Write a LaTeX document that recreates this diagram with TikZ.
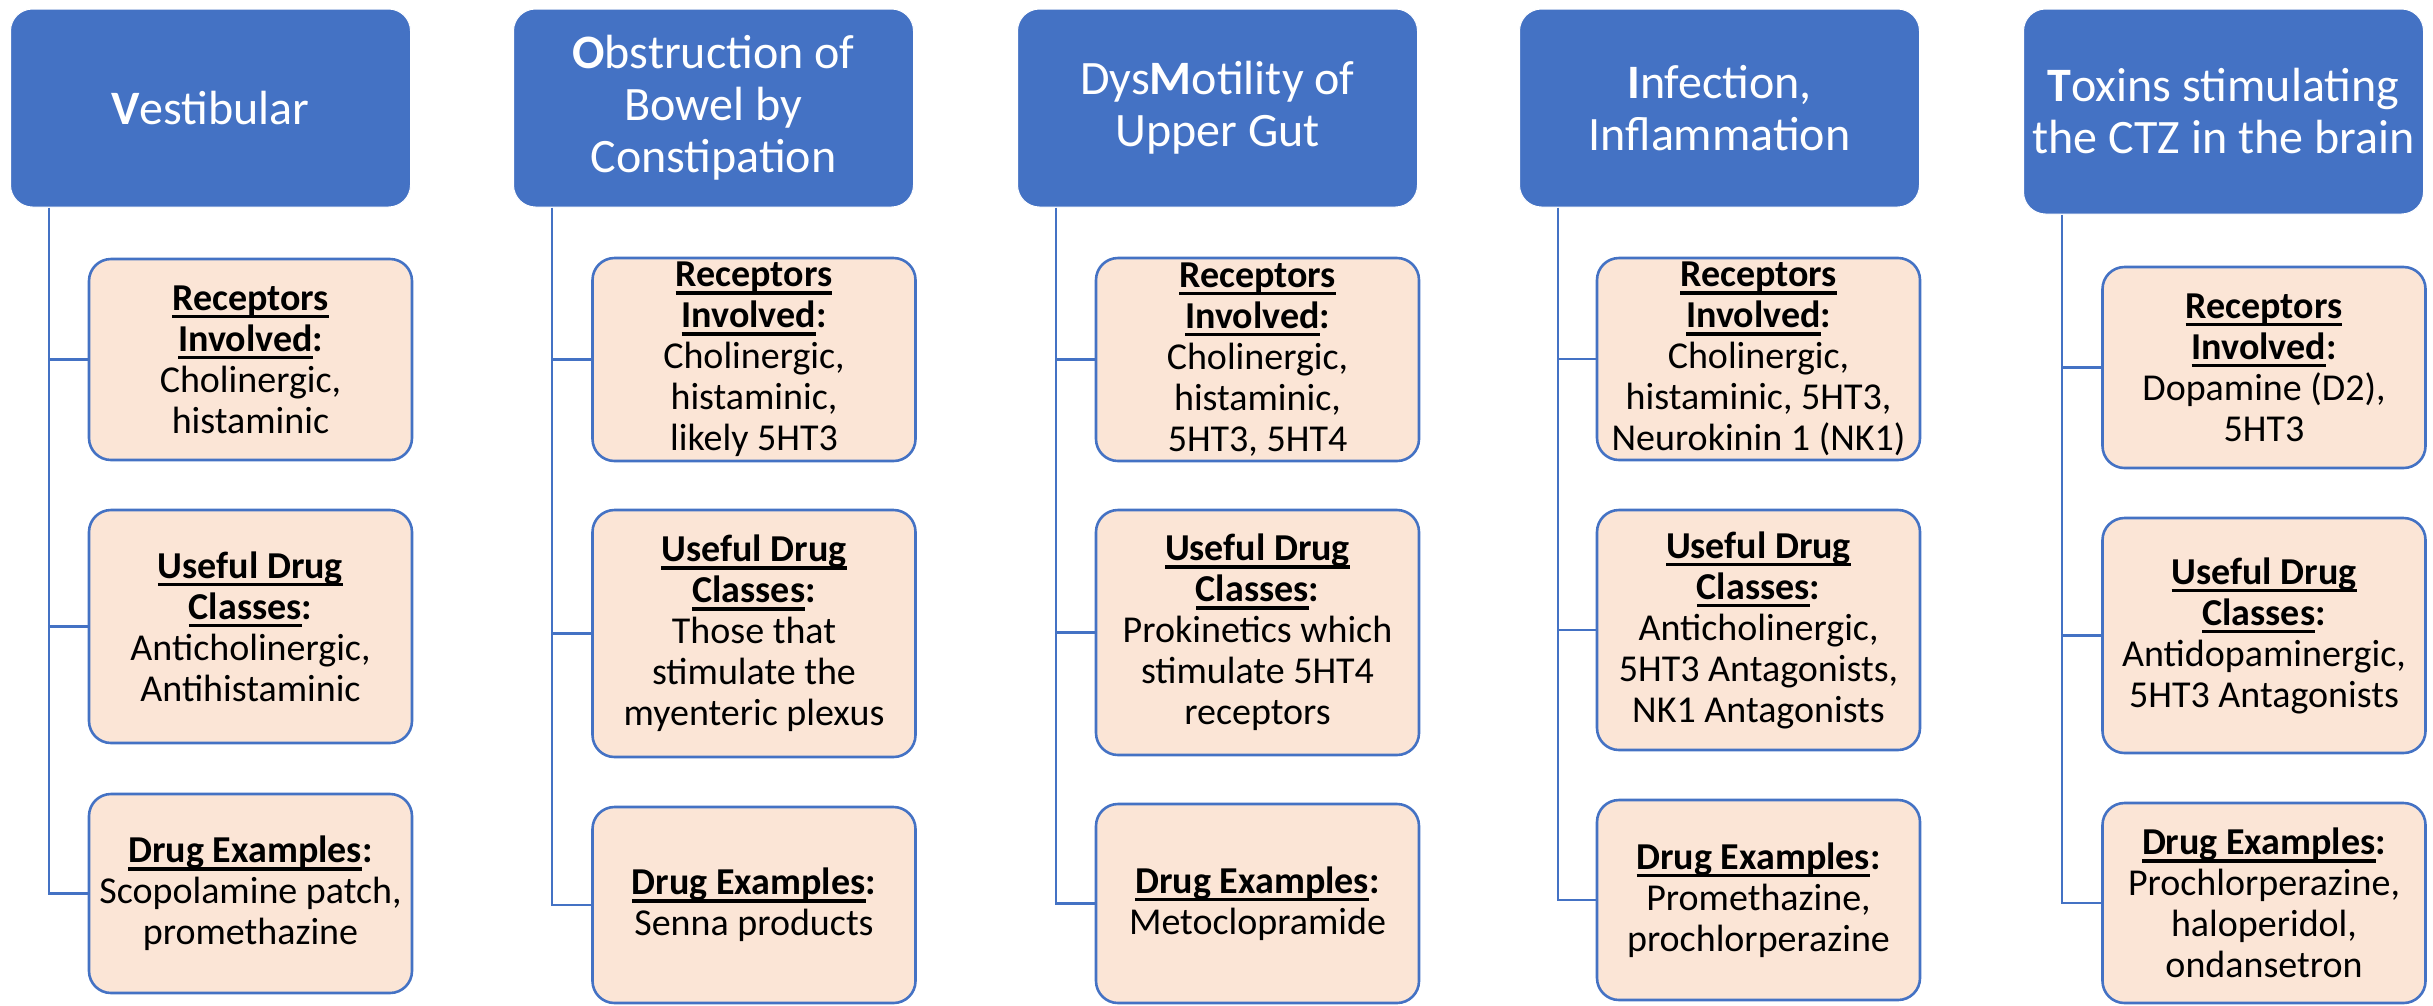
\documentclass[tikz,border=0pt]{standalone}
\usepackage{fontspec}
\setmainfont{Carlito}
\usepackage{tikz}

\definecolor{headblue}{HTML}{4472C4}
\definecolor{peach}{HTML}{FBE5D6}

\newcommand{\ulbf}[1]{\setbox0=\hbox{\bfseries #1}\rlap{\rule[-8pt]{\wd0}{3.5pt}}\box0}

\begin{document}
\begin{tikzpicture}[x=1pt, y=-1pt,
    head/.style={fill=headblue, draw=white, line width=1pt, rounded corners=22pt, text=white,
        minimum width=400pt, minimum height=198pt, align=center, inner sep=0pt,
        font=\fontsize{48}{52}\selectfont},
    info/.style={fill=peach, draw=headblue, line width=2.6pt, rounded corners=22pt,
        minimum width=323pt, align=center, inner sep=0pt,
        font=\fontsize{38}{41}\selectfont},
    conn/.style={draw=headblue, line width=2.6pt}]
    \useasboundingbox (0,0) rectangle (2433,1005);

    \node [head] (h1) at (210.5,108) {{\bfseries V}estibular};
    \node [head] (h2) at (713.5,108) {{\bfseries O}bstruction of\\Bowel by\\Constipation};
    \node [head] (h3) at (1217.5,108) {Dys{\bfseries M}otility of\\Upper Gut};
    \node [head] (h4) at (1719.5,108) {{\bfseries I}nfection,\\Inflammation};
    \node [head, minimum height=205pt] (h5) at (2223.5,111.5) {{\bfseries T}oxins stimulating\\the CTZ in the brain};

    \node [info, minimum height=201pt] (b11) at (250.5,359.5) {\ulbf{Receptors}\\\ulbf{Involved}\textbf{:}\\Cholinergic,\\histaminic};
    \node [info, minimum height=233pt] (b12) at (250.5,626.5) {\ulbf{Useful Drug}\\\ulbf{Classes}\textbf{:}\\Anticholinergic,\\Antihistaminic};
    \node [info, minimum height=199pt] (b13) at (250.5,893.5) {\ulbf{Drug Examples}\textbf{:}\\Scopolamine patch,\\promethazine};

    \node [info, minimum height=203pt] (b21) at (754,359.5) {\ulbf{Receptors}\\\ulbf{Involved}\textbf{:}\\Cholinergic,\\histaminic,\\likely 5HT3};
    \node [info, minimum height=247pt] (b22) at (754,633.5) {\ulbf{Useful Drug}\\\ulbf{Classes}\textbf{:}\\Those that\\stimulate the\\myenteric plexus};
    \node [info, minimum height=196pt] (b23) at (754,905) {\ulbf{Drug Examples}\textbf{:}\\Senna products};

    \node [info, minimum height=203pt] (b31) at (1257.5,359.5) {\ulbf{Receptors}\\\ulbf{Involved}\textbf{:}\\Cholinergic,\\histaminic,\\5HT3, 5HT4};
    \node [info, minimum height=245pt] (b32) at (1257.5,632.5) {\ulbf{Useful Drug}\\\ulbf{Classes}\textbf{:}\\Prokinetics which\\stimulate 5HT4\\receptors};
    \node [info, minimum height=199pt] (b33) at (1257.5,903.5) {\ulbf{Drug Examples}\textbf{:}\\Metoclopramide};

    \node [info, minimum height=202pt] (b41) at (1758.5,359) {\ulbf{Receptors}\\\ulbf{Involved}\textbf{:}\\Cholinergic,\\histaminic, 5HT3,\\Neurokinin 1 (NK1)};
    \node [info, minimum height=240pt] (b42) at (1758.5,630) {\ulbf{Useful Drug}\\\ulbf{Classes}\textbf{:}\\Anticholinergic,\\5HT3 Antagonists,\\NK1 Antagonists};
    \node [info, minimum height=200pt] (b43) at (1758.5,900) {\ulbf{Drug Examples}\textbf{:}\\Promethazine,\\prochlorperazine};

    \node [info, minimum height=201pt] (b51) at (2264,367.5) {\ulbf{Receptors}\\\ulbf{Involved}\textbf{:}\\Dopamine (D2),\\5HT3};
    \node [info, minimum height=235pt] (b52) at (2264,635.5) {\ulbf{Useful Drug}\\\ulbf{Classes}\textbf{:}\\Antidopaminergic,\\5HT3 Antagonists};
    \node [info, minimum height=200pt] (b53) at (2264,903) {\ulbf{Drug Examples}\textbf{:}\\Prochlorperazine,\\haloperidol,\\ondansetron};

    \draw [conn] ([xshift=39pt]h1.south west) |- (b11.west) ([xshift=39pt]h1.south west) |- (b12.west) ([xshift=39pt]h1.south west) |- (b13.west);
    \draw [conn] ([xshift=39pt]h2.south west) |- (b21.west) ([xshift=39pt]h2.south west) |- (b22.west) ([xshift=39pt]h2.south west) |- (b23.west);
    \draw [conn] ([xshift=39pt]h3.south west) |- (b31.west) ([xshift=39pt]h3.south west) |- (b32.west) ([xshift=39pt]h3.south west) |- (b33.west);
    \draw [conn] ([xshift=39pt]h4.south west) |- (b41.west) ([xshift=39pt]h4.south west) |- (b42.west) ([xshift=39pt]h4.south west) |- (b43.west);
    \draw [conn] ([xshift=39pt]h5.south west) |- (b51.west) ([xshift=39pt]h5.south west) |- (b52.west) ([xshift=39pt]h5.south west) |- (b53.west);

\end{tikzpicture}
\end{document}
